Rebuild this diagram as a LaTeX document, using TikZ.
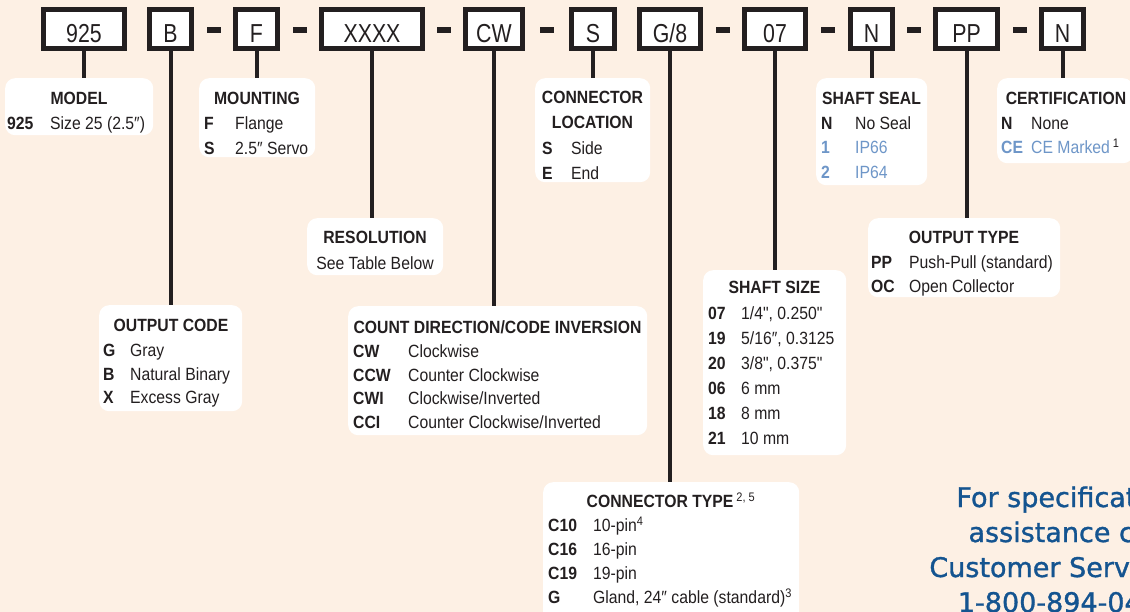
\documentclass[tikz,border=0pt]{standalone}
\usepackage{fontspec}
\setmainfont[FakeStretch=0.89, Ligatures=TeXOff]{Liberation Sans}
\newfontfamily\boxfont[FakeStretch=0.82]{Liberation Sans}
\newfontfamily\callfont[FakeBold=1.2]{DejaVu Sans}
\definecolor{paper}{RGB}{253,240,228}
\definecolor{ink}{RGB}{35,31,32}
\definecolor{soft}{RGB}{110,150,200}
\definecolor{callblue}{RGB}{20,84,144}
\newcommand{\cd}[2]{\makebox[#1pt][l]{\textbf{#2}}}

\begin{document}
\begin{tikzpicture}[x=1pt,y=-1pt,
  codebox/.style={draw=ink, line width=5pt, fill=white, inner sep=0pt, minimum height=39pt,
    text height=28pt, text depth=0pt, text=ink, font=\boxfont\fontsize{26}{26}\selectfont},
  dashbar/.style={fill=ink, inner sep=0pt, minimum width=14pt, minimum height=6pt},
  stem/.style={draw=ink, line width=4pt},
  info/.style={fill=white, rounded corners=10pt, inner sep=0pt, anchor=north west},
  head/.style={anchor=base, inner sep=0pt, text=ink, font=\fontsize{17.7}{20}\selectfont\bfseries},
  line/.style={anchor=base, inner sep=0pt, text=ink, font=\fontsize{17.7}{20}\selectfont},
  rows/.style={anchor=base west, inner sep=0pt, text=ink, font=\fontsize{17.7}{#1}\selectfont},
  call/.style={anchor=base, inner sep=0pt, text=callblue, font=\callfont\fontsize{27}{27}\selectfont}]
\useasboundingbox (0,0) rectangle (1130,612);
\clip (0,0) rectangle (1130,612);
\fill[paper] (0,0) rectangle (1130,612);

% part number boxes
\node[codebox, minimum width=81pt] (c925) at (84,29) {925};
\node[codebox, minimum width=42pt] (cB) at (170.5,29) {B};
\node[codebox, minimum width=42pt] (cF) at (256.5,29) {F};
\node[codebox, minimum width=101pt] (cX) at (372,29) {XXXX};
\node[codebox, minimum width=57pt] (cCW) at (494,29) {CW};
\node[codebox, minimum width=43pt] (cS) at (593,29) {S};
\node[codebox, minimum width=61pt] (cG) at (670,29) {G/8};
\node[codebox, minimum width=61pt] (c07) at (775,29) {07};
\node[codebox, minimum width=42pt] (cN) at (871.5,29) {N};
\node[codebox, minimum width=62pt] (cPP) at (966.5,29) {PP};
\node[codebox, minimum width=42pt] (cC) at (1062.5,29) {N};

% dashes
\path (cB.east) -- (cF.west) node[dashbar, midway, yshift=-1pt] (d1) {};
\path (cF.east) -- (cX.west) node[dashbar, midway, yshift=-1pt] (d2) {};
\path (cX.east) -- (cCW.west) node[dashbar, midway, yshift=-1pt] (d3) {};
\path (cCW.east) -- (cS.west) node[dashbar, midway, yshift=-1pt] (d4) {};
\path (cG.east) -- (c07.west) node[dashbar, midway, yshift=-1pt] (d5) {};
\path (c07.east) -- (cN.west) node[dashbar, midway, yshift=-1pt] (d6) {};
\path (cN.east) -- (cPP.west) node[dashbar, midway, yshift=-1pt] (d7) {};
\path (cPP.east) -- (cC.west) node[dashbar, midway, yshift=-1pt] (d8) {};

% description boxes
\node[info, minimum width=148pt, minimum height=57pt] (model) at (5,78) {};
\node[info, minimum width=116pt, minimum height=79pt] (mount) at (199,78) {};
\node[info, minimum width=115pt, minimum height=104pt] (conloc) at (535,78) {};
\node[info, minimum width=111pt, minimum height=107pt] (seal) at (816,78) {};
\node[info, minimum width=136pt, minimum height=85pt] (cert) at (997,78) {};
\node[info, minimum width=143pt, minimum height=106pt] (outcode) at (99,305) {};
\node[info, minimum width=136pt, minimum height=57pt] (resol) at (307,218) {};
\node[info, minimum width=299pt, minimum height=129pt] (count) at (348,306) {};
\node[info, minimum width=143pt, minimum height=185pt] (size) at (703,270) {};
\node[info, minimum width=192pt, minimum height=79pt] (outtype) at (868,218) {};
\node[info, minimum width=256pt, minimum height=140pt] (contype) at (543,482) {};

% stems
\draw[stem] (c925.south) -- (c925.south |- model.north);
\draw[stem] (cB.south) -- (cB.south |- outcode.north);
\draw[stem] (cF.south) -- (cF.south |- mount.north);
\draw[stem] (cX.south) -- (cX.south |- resol.north);
\draw[stem] (cCW.south) -- (cCW.south |- count.north);
\draw[stem] (cS.south) -- (cS.south |- conloc.north);
\draw[stem] (cG.south) -- (cG.south |- contype.north);
\draw[stem] (c07.south) -- (c07.south |- size.north);
\draw[stem] (cN.south) -- (cN.south |- seal.north);
\draw[stem] (cPP.south) -- (cPP.south |- outtype.north);
\draw[stem] (cC.south) -- (cC.south |- cert.north);

% texts
\node[head] (model-h) at (79,104.5) {MODEL};
\node[rows=25] (model-r) at (7,129.5) {\begin{tabular}[t]{@{}l@{}}\cd{43}{925}Size 25 (2.5″)\end{tabular}};

\node[head] (mount-h) at (257,104.5) {MOUNTING};
\node[rows=25] (mount-r) at (204,129.5) {\begin{tabular}[t]{@{}l@{}}\cd{31}{F}Flange\\ \cd{31}{S}2.5″ Servo\end{tabular}};

\node[head] (conloc-h) at (592.5,104) {CONNECTOR};
\node[head] (conloc-h2) at (592.5,129) {LOCATION};
\node[rows=25] (conloc-r) at (542,154.5) {\begin{tabular}[t]{@{}l@{}}\cd{29}{S}Side\\ \cd{29}{E}End\end{tabular}};

\node[head] (seal-h) at (871.5,104.5) {SHAFT SEAL};
\node[rows=24.5] (seal-r) at (821,129.5) {\begin{tabular}[t]{@{}l@{}}\cd{34}{N}No Seal\\ {\color{soft}\cd{34}{1}IP66}\\ {\color{soft}\cd{34}{2}IP64}\end{tabular}};

\node[head] (cert-h) at (1066,104.5) {CERTIFICATION};
\node[rows=24.5] (cert-r) at (1001,129.5) {\begin{tabular}[t]{@{}l@{}}\cd{30}{N}None\\ {\color{soft}\cd{30}{CE}CE Marked}\,\textsuperscript{1}\end{tabular}};

\node[head] (outcode-h) at (171,331.3) {OUTPUT CODE};
\node[rows=23.5] (outcode-r) at (103,356.5) {\begin{tabular}[t]{@{}l@{}}\cd{27}{G}Gray\\ \cd{27}{B}Natural Binary\\ \cd{27}{X}Excess Gray\end{tabular}};

\node[head] (resol-h) at (375,243.3) {RESOLUTION};
\node[line] (resol-l) at (375,269.3) {See Table Below};

\node[head] (count-h) at (497.5,333.3) {COUNT DIRECTION/CODE INVERSION};
\node[rows=23.7] (count-r) at (353,357.5) {\begin{tabular}[t]{@{}l@{}}\cd{55}{CW}Clockwise\\ \cd{55}{CCW}Counter Clockwise\\ \cd{55}{CWI}Clockwise/Inverted\\ \cd{55}{CCI}Counter Clockwise/Inverted\end{tabular}};

\node[head] (size-h) at (774.5,293.3) {SHAFT SIZE};
\node[rows=25] (size-r) at (708,319.5) {\begin{tabular}[t]{@{}l@{}}\cd{33}{07}1/4", 0.250"\\ \cd{33}{19}5/16″, 0.3125\\ \cd{33}{20}3/8", 0.375"\\ \cd{33}{06}6 mm\\ \cd{33}{18}8 mm\\ \cd{33}{21}10 mm\end{tabular}};

\node[head] (outtype-h) at (964,243.3) {OUTPUT TYPE};
\node[rows=24] (outtype-r) at (871,268.5) {\begin{tabular}[t]{@{}l@{}}\cd{38}{PP}Push-Pull (standard)\\ \cd{38}{OC}Open Collector\end{tabular}};

\node[head] (contype-h) at (671,507.3) {CONNECTOR TYPE\,\textsuperscript{\mdseries 2, 5}};
\node[rows=24] (contype-r) at (548,531.5) {\begin{tabular}[t]{@{}l@{}}\cd{45}{C10}10-pin\textsuperscript{4}\\ \cd{45}{C16}16-pin\\ \cd{45}{C19}19-pin\\ \cd{45}{G}Gland, 24″ cable (standard)\textsuperscript{3}\end{tabular}};

% call out
\node[call] (call1) at (1067,507) {For specification};
\node[call] (call2) at (1067,542) {assistance call};
\node[call] (call3) at (1067,577) {Customer Service at};
\node[call] (call4) at (1067,612) {1-800-894-0412};
\end{tikzpicture}
\end{document}
